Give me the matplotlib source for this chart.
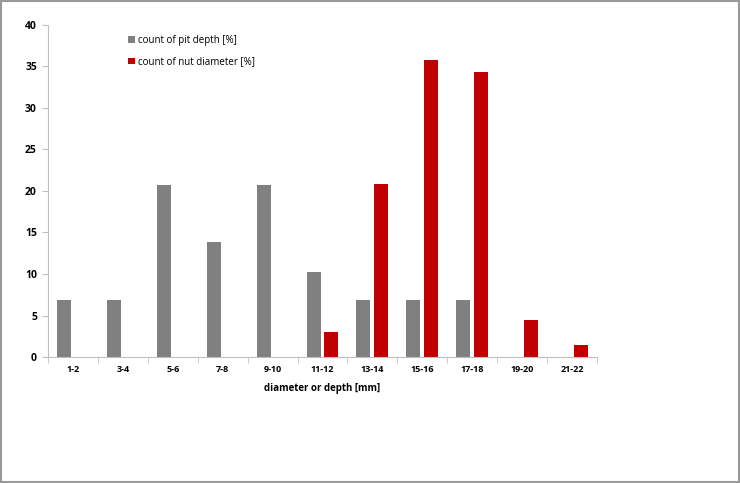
import numpy as np
import matplotlib.pyplot as plt
from matplotlib.patches import Rectangle

categories = ["1-2", "3-4", "5-6", "7-8", "9-10", "11-12",
              "13-14", "15-16", "17-18", "19-20", "21-22"]
pit_depth = [6.9, 6.9, 20.7, 13.8, 20.7, 10.3, 6.9, 6.9, 6.9, 0, 0]
nut_diameter = [0, 0, 0, 0, 0, 3.0, 20.9, 35.8, 34.3, 4.5, 1.5]

plt.rcParams["font.family"] = ["Open Sans", "DejaVu Sans"]

fig = plt.figure(figsize=(7.4, 4.83), dpi=100)
ax = fig.add_axes([48 / 740, 126 / 483, 549 / 740, 332 / 483])

x = np.arange(len(categories))
w = 0.28
ax.bar(x - 0.18, pit_depth, width=w, color="#808080", label="count of pit depth [%]")
ax.bar(x + 0.18, nut_diameter, width=w, color="#C00000", label="count of nut diameter [%]")

ax.set_xlim(-0.5, len(categories) - 0.5)
ax.set_ylim(0, 40)
ax.set_yticks(range(0, 41, 5))
ax.set_xticks(x)
ax.set_xticklabels(categories, fontsize=6.5, fontweight="bold")
ax.set_xticks(np.arange(-0.5, len(categories), 1), minor=True)
ax.tick_params(axis="x", which="major", length=0, pad=6)
ax.tick_params(axis="x", which="minor", length=4, color="#BFBFBF")
ax.tick_params(axis="y", length=4, color="#BFBFBF", labelsize=7.5, pad=4)
for lab in ax.get_yticklabels():
    lab.set_fontweight("bold")

for side in ["top", "right"]:
    ax.spines[side].set_visible(False)
for side in ["left", "bottom"]:
    ax.spines[side].set_color("#BFBFBF")

ax.set_xlabel("diameter or depth [mm]", fontsize=7, fontweight="bold", labelpad=6)

ax.legend(loc="upper left", bbox_to_anchor=(0.13, 0.997), frameon=False,
          fontsize=7, handlelength=0.7, handleheight=0.7, handletextpad=0.3,
          labelspacing=1.1)

fig.patches.append(Rectangle((0.002, 0.002), 0.996, 0.996, transform=fig.transFigure,
                             fill=False, edgecolor="#999999", linewidth=1.5))

fig.savefig("out.png", dpi=100)
